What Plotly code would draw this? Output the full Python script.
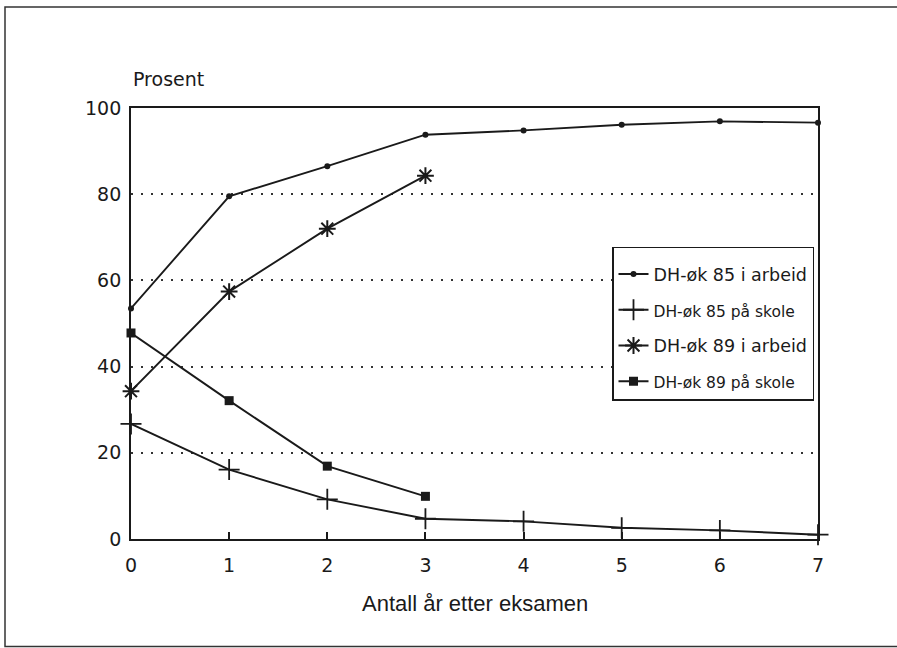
import plotly.graph_objects as go

# years after exam
years_85 = [0, 1, 2, 3, 4, 5, 6, 7]
years_89 = [0, 1, 2, 3]

arbeid_85 = [53.5, 79.5, 86.5, 93.8, 94.8, 96.1, 96.9, 96.6]
skole_85 = [26.7, 16.1, 9.2, 4.7, 4.1, 2.6, 2.0, 1.0]
arbeid_89 = [34.3, 57.4, 72.0, 84.3]
skole_89 = [47.8, 32.1, 16.9, 9.9]

names = ["DH-øk 85 i arbeid",
         "<span style='font-size:15.5px'>DH-øk 85 på skole</span>",
         "DH-øk 89 i arbeid",
         "<span style='font-size:15.5px'>DH-øk 89 på skole</span>"]

W, H = 897, 648
L, R, T, B = 131, 818, 108, 539.5  # plot area in px
FONT = "DejaVu Sans, Verdana, sans-serif"
INK = "#1a1a1a"


def px_x(p):
    return (p - L) / (R - L)


def px_y(p):
    return (B - p) / (B - T)


fig = go.Figure()
line = dict(color=INK, width=1.9)

fig.add_trace(go.Scatter(x=years_85, y=arbeid_85, mode="lines+markers", name=names[0],
                         line=line, marker=dict(symbol="circle", size=6, color=INK),
                         legendgroup="a", cliponaxis=False))
fig.add_trace(go.Scatter(x=years_85, y=skole_85, mode="lines+markers", name=names[1],
                         line=line, marker=dict(symbol="cross-thin", size=15,
                                                line=dict(color=INK, width=1.8)),
                         legendgroup="b", cliponaxis=False))
fig.add_trace(go.Scatter(x=years_89, y=arbeid_89, mode="lines+markers", name=names[2],
                         line=line, marker=dict(symbol="asterisk", size=14,
                                                line=dict(color=INK, width=2)),
                         legendgroup="c", cliponaxis=False))
fig.add_trace(go.Scatter(x=years_89, y=skole_89, mode="lines+markers", name=names[3],
                         line=line, marker=dict(symbol="square", size=9, color=INK),
                         legendgroup="d", cliponaxis=False))

fig.update_xaxes(range=[0, 7], tickvals=years_85, ticks="inside", ticklen=7, tickwidth=1.5,
                 tickcolor=INK, showline=True, linecolor=INK, linewidth=1.9,
                 mirror=True, showgrid=False, zeroline=False, ticklabelstandoff=8,
                 tickfont=dict(size=19, color=INK))
fig.update_yaxes(range=[0, 100], tickvals=[0, 20, 40, 60, 80, 100], ticks="",
                 showline=True, linecolor=INK, linewidth=1.9, mirror=True,
                 showgrid=True, gridcolor="#333333", gridwidth=1.6, griddash="2px,8px",
                 zeroline=False, ticklabelstandoff=4,
                 tickfont=dict(size=19, color=INK))

fig.add_annotation(text="Prosent", xref="paper", yref="paper", x=0, y=px_y(79),
                   xanchor="left", yanchor="middle", showarrow=False,
                   font=dict(size=19, color=INK))
fig.add_annotation(text="Antall år etter eksamen", xref="paper", yref="paper", x=0.5,
                   y=px_y(604), xanchor="center", yanchor="middle", showarrow=False,
                   font=dict(size=22, color=INK, family="Liberation Sans, Arial, sans-serif"))

# outer frame (right edge falls off the page, as in the original scan)
fig.add_shape(type="rect", xref="paper", yref="paper",
              x0=px_x(5), x1=px_x(900), y0=px_y(647), y1=px_y(7),
              line=dict(color="#333333", width=1.5))

fig.update_layout(
    width=W, height=H,
    margin=dict(l=L, r=W - R, t=T, b=H - B),
    paper_bgcolor="white", plot_bgcolor="white",
    font=dict(family=FONT, color=INK),
    legend=dict(x=px_x(612), y=px_y(247), xanchor="left", yanchor="top",
                bordercolor=INK, borderwidth=1.5, bgcolor="white",
                title=dict(text="&nbsp;", font=dict(size=6)),
                font=dict(size=17.5), tracegroupgap=10, itemwidth=30),
)

fig.write_html("out.html", config={"displayModeBar": False},
               post_script="document.body.style.margin='0';")
